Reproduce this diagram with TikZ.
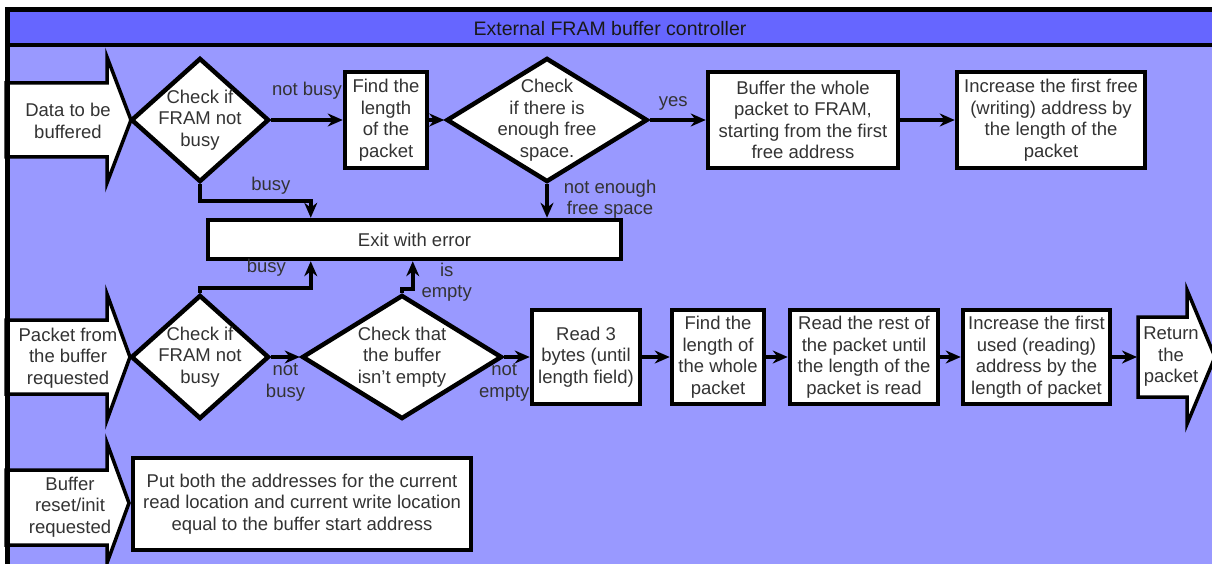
\documentclass[tikz,border=0pt]{standalone}
\usepackage{fontspec}
\setmainfont{Liberation Sans}
\usepackage{tikz}
\usetikzlibrary{
	shapes.geometric,
	positioning,
	arrows.meta
}

\definecolor{titleblue}{HTML}{6666FF}
\definecolor{poolblue}{HTML}{9999FF}
\definecolor{txt}{HTML}{333333}

\tikzset{
	every node/.style={font=\fontsize{18.5}{21.5}\selectfont, text=txt, align=center},
	box/.style={draw=black, line width=4.5pt, fill=white, inner sep=0pt},
	decision/.style={diamond, draw=black, line width=4.5pt, fill=white, inner sep=0pt},
	inarrow/.style={draw=black, line width=3.5pt, fill=white},
	flow/.style={line width=3.5pt, -{Stealth[length=15pt,width=13pt]}},
	lbl/.style={inner sep=1pt}
}

\begin{document}
\begin{tikzpicture}[x=1pt,y=-1pt]
		\useasboundingbox (0,0) rectangle (1212,564);
		\clip (0,0) rectangle (1212,564);

		% pool and title
		\fill[poolblue]  (7,45) rectangle (1240,600);
		\fill[titleblue] (7,10) rectangle (1240,45);
		\node[font=\fontsize{19.5}{22}\selectfont, text=black!90] (title) at (610,29) {External FRAM buffer controller};

		% start and end arrows
		\draw[inarrow] (6,83) -- (107,83) -- (107,57) -- (131,120) -- (107,183) -- (107,157) -- (6,157) -- cycle;
		\draw[inarrow] (6,320) -- (107,320) -- (107,294) -- (130,357) -- (107,420) -- (107,394) -- (6,394) -- cycle;
		\draw[inarrow] (6,470) -- (107,470) -- (107,443) -- (129,503) -- (107,563) -- (107,545) -- (6,545) -- cycle;
		\draw[inarrow] (1138,317) -- (1187,317) -- (1187,290) -- (1215,357) -- (1187,424) -- (1187,397) -- (1138,397) -- cycle;
		\coordinate (retin) at (1137,357);

		\draw
			node                      (data)   at (68,121)   {Data to be\\buffered}
			node                      (req)    at (68,358)   {Packet from\\the buffer\\requested}
			node                      (rst)    at (70,507)   {Buffer\\reset/init\\requested}
			node                      (ret)    at (1171,357) {Return\\the\\packet}

			node[decision, minimum width=138pt, minimum height=124pt,
				label=center:{Check if\\FRAM not\\busy}]                  (chk1)   at (200,120) {}
			node[box, minimum width=82pt, minimum height=96pt]          (len1)   at (386,120) {Find the\\length\\of the\\packet}
			node[decision, minimum width=201pt, minimum height=124pt,
				label=center:{Check\\if there is\\enough free\\space.}]   (space)  at (547,120) {}
			node[box, minimum width=190pt, minimum height=96pt]         (store)  at (803,120) {Buffer the whole\\packet to FRAM,\\starting from the first\\free address}
			node[box, minimum width=188pt, minimum height=96pt]         (incw)   at (1051,120) {Increase the first free\\(writing) address by\\the length of the\\packet}

			node[box, minimum width=413pt, minimum height=39pt]         (exit)   at (414.5,239.5) {Exit with error}

			node[decision, minimum width=138pt, minimum height=124pt,
				label=center:{Check if\\FRAM not\\busy}]                  (chk2)   at (200,357) {}
			node[decision, minimum width=200pt, minimum height=124pt,
				label=center:{Check that\\the buffer\\isn't empty}]       (empty)  at (402,357) {}
			node[box, minimum width=108pt, minimum height=94pt]         (rd3)    at (586,357) {Read 3\\bytes (until\\length field)}
			node[box, minimum width=92pt, minimum height=94pt]          (len2)   at (718,357) {Find the\\length of\\the whole\\packet}
			node[box, minimum width=148pt, minimum height=94pt]         (rdrest) at (864,357) {Read the rest of\\the packet until\\the length of the\\packet is read}
			node[box, minimum width=147pt, minimum height=94pt]         (incr)   at (1036.5,357) {Increase the first\\used (reading)\\address by the\\length of packet}

			node[box, minimum width=338pt, minimum height=92pt]         (reset)  at (302,504) {Put both the addresses for the current\\read location and current write location\\equal to the buffer start address}

			(chk1.east)  edge[flow] node[lbl, above=18pt]          {not busy}              (len1.west)
			(len1.east)  edge[flow]                                                        (space.west)
			(space.east) edge[flow] node[lbl, pos=0.42, above=7pt] {yes}                   (store.west)
			(store.east) edge[flow]                                                        (incw.west)
			(space.south) edge[flow] node[lbl, pos=0.45, right=14pt] {not enough\\free space} (space.south |- exit.north)

			(chk2.east)  edge[flow] node[lbl, below=4pt]           {not\\busy}             (empty.west)
			(empty.east) edge[flow] node[lbl, pos=0, below=4pt]    {not\\empty}            (rd3.west)
			(rd3.east)   edge[flow]                                                        (len2.west)
			(len2.east)  edge[flow]                                                        (rdrest.west)
			(rdrest.east) edge[flow]                                                       (incr.west)
			(incr.east)  edge[flow]                                                        (retin)
		;

		% error exits
		\draw[flow] (chk1.south) -- ++(0,17) -| node[lbl, pos=0.32, above=4pt] {busy} ([xshift=105pt]exit.north west);
		\draw[flow] (chk2.north) -- ++(0,-5) -| node[lbl, pos=0.3, above=9pt] {busy} ([xshift=105pt]exit.south west);
		\draw[flow] (empty.north) -- ++(0,-4) -| node[lbl, pos=0.62, right=6pt] {is\\empty} ([xshift=207pt]exit.south west);

		% frame
		\draw[line width=5pt] (7.5,600) -- (7.5,9.75) -- (1240,9.75);
		\draw[line width=4pt] (7,45.5) -- (1240,45.5);
	\end{tikzpicture}
\end{document}
